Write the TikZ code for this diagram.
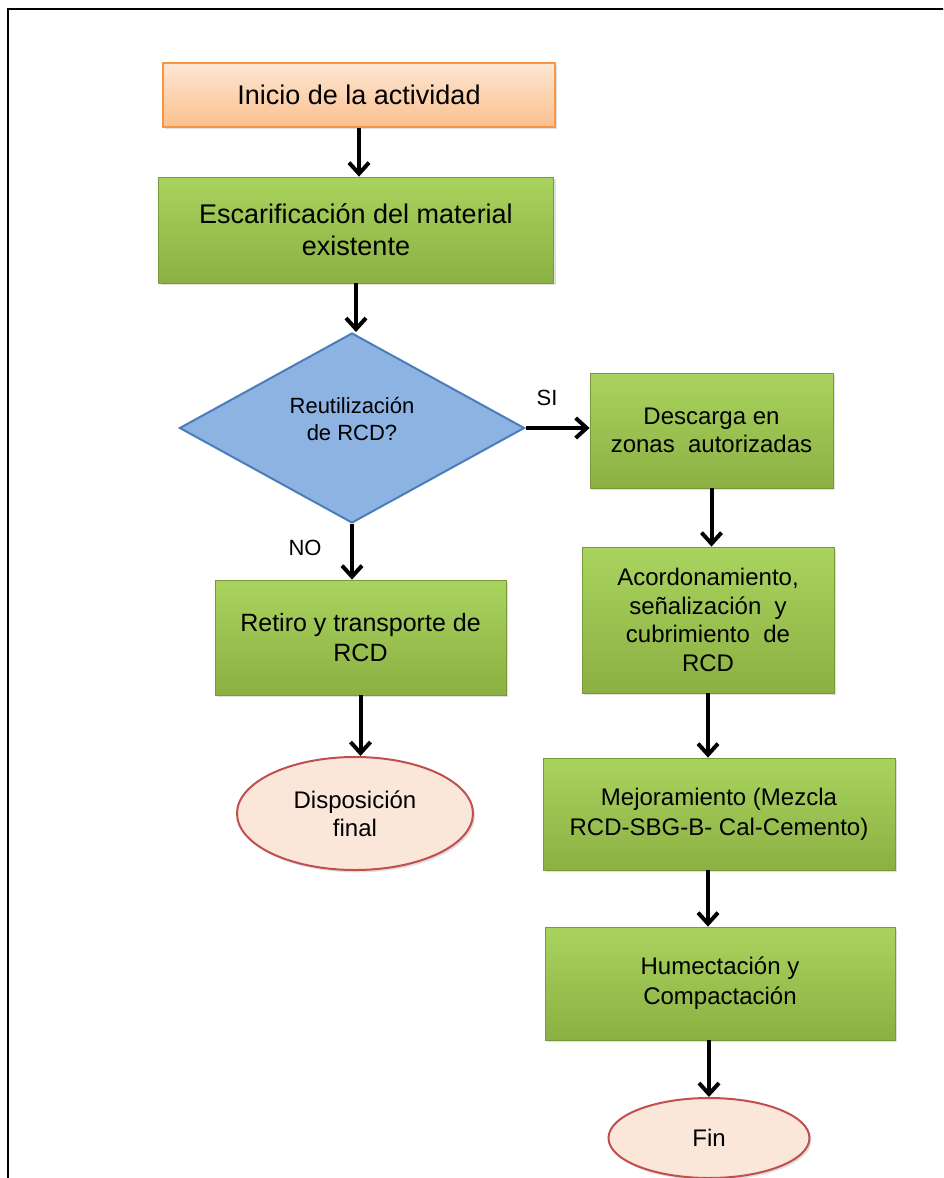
\documentclass[tikz,border=0pt]{standalone}
\usepackage{fontspec}
\setmainfont{Liberation Sans}
\usetikzlibrary{shapes.geometric,arrows.meta,shadows}
\definecolor{verdeA}{HTML}{A9D35E}
\definecolor{verdeB}{HTML}{8BB043}
\definecolor{verdeBorde}{HTML}{7A9A3A}
\definecolor{naranjaA}{HTML}{FDE7D3}
\definecolor{naranjaB}{HTML}{FBC08E}
\definecolor{naranjaBorde}{HTML}{F79646}
\definecolor{azulRombo}{HTML}{8DB3E2}
\definecolor{azulBorde}{HTML}{4A7EBB}
\definecolor{rosaFin}{HTML}{FBE6DA}
\definecolor{rojoBorde}{HTML}{C0504D}
\begin{document}
\begin{tikzpicture}[x=0.5pt, y=-0.5pt,
    sombra/.style={drop shadow={opacity=0.25, shadow xshift=1pt, shadow yshift=-1.2pt}},
    caja/.style={draw=verdeBorde, top color=verdeA, bottom color=verdeB, align=center, inner sep=2pt, sombra},
    inicio/.style={draw=naranjaBorde, line width=1pt, top color=naranjaA, bottom color=naranjaB, align=center, sombra},
    decision/.style={diamond, draw=azulBorde, line width=1pt, fill=azulRombo, align=center, inner sep=0pt, font=\fontsize{11}{13.5}\selectfont},
    terminal/.style={ellipse, draw=rojoBorde, line width=1pt, fill=rosaFin, align=center, inner sep=0pt, sombra, font=\fontsize{12}{14}\selectfont},
    flecha/.style={line width=2pt, -{Straight Barb[length=5.5pt, width=10pt]}},
    etiqueta/.style={font=\fontsize{11}{13}\selectfont}]
    \path[use as bounding box, clip] (0,0) rectangle (943,1178);
    \draw[line width=1.1pt] (8,1200) -- (8,9) -- (960,9);
    \node[inicio, minimum width=196pt, minimum height=32pt, font=\fontsize{13.5}{16}\selectfont] (ini) at (359,95) {Inicio de la actividad};
    \node[caja, minimum width=197.5pt, minimum height=53pt, font=\fontsize{13.5}{16}\selectfont] (esc) at (356,230) {Escarificación del material\\existente};
    \node[decision, minimum width=172.5pt, minimum height=95pt] (reu) at (352,428) {Reutilización\\de RCD?\\[-4pt]\phantom{x}};
    \node[caja, minimum width=121.5pt, minimum height=57.5pt, font=\fontsize{12}{14}\selectfont] (des) at (711.5,430.5) {Descarga en\\zonas~ autorizadas};
    \node[caja, minimum width=145.5pt, minimum height=57.5pt, font=\fontsize{12.5}{15}\selectfont] (ret) at (360.5,637.5) {Retiro y transporte de\\RCD};
    \node[terminal, minimum width=118pt, minimum height=56.5pt] (dis) at (355,813.5) {Disposición\\final};
    \node[caja, minimum width=126pt, minimum height=73pt, font=\fontsize{12}{14.3}\selectfont] (aco) at (708,620) {Acordonamiento,\\señalización~ y\\cubrimiento~ de\\RCD};
    \node[caja, minimum width=176pt, minimum height=56pt, font=\fontsize{12}{15}\selectfont] (mej) at (719,814) {Mejoramiento (Mezcla\\RCD-SBG-B- Cal-Cemento)};
    \node[caja, minimum width=175pt, minimum height=56.5pt, font=\fontsize{12}{15}\selectfont] (hum) at (720,983.5) {Humectación y\\Compactación};
    \node[terminal, minimum width=100.5pt, minimum height=40pt] (fin) at (709,1138) {Fin};
    \draw[flecha] (ini) -- (ini |- esc.north);
    \draw[flecha] (esc) -- (esc |- reu.north);
    \draw[flecha] (reu.east) -- (reu.east -| des.west);
    \draw[flecha] (reu) -- (reu |- ret.north);
    \draw[flecha] (ret) -- (ret |- dis.north);
    \draw[flecha] (des) -- (des |- aco.north);
    \draw[flecha] (aco) -- (aco |- mej.north);
    \draw[flecha] (aco |- mej.south) -- (aco |- hum.north);
    \draw[flecha] (fin |- hum.south) -- (fin);
    \node[etiqueta] (si) at (547,398) {SI};
    \node[etiqueta] (no) at (305,548) {NO};
\end{tikzpicture}
\end{document}
